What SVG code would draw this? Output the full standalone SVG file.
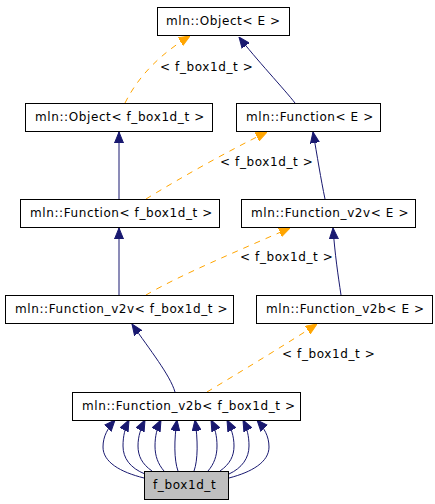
<svg xmlns="http://www.w3.org/2000/svg" width="435" height="504" viewBox="0 0 435 504">
<style>
.box{fill:#ffffff;stroke:#000000;stroke-width:1}
.grey{fill:#bfbfbf}
text{font-family:"DejaVu Sans","Liberation Sans",sans-serif;font-size:12px;letter-spacing:0.6px;fill:#000000}
.inh{fill:none;stroke:#191970;stroke-width:1}
.tpl{fill:none;stroke:#ffa500;stroke-width:1;stroke-dasharray:6,6}
</style>
<defs>
<marker id="an" markerUnits="userSpaceOnUse" markerWidth="11" markerHeight="10" viewBox="0 0 11 10" refX="11" refY="5" orient="auto"><path d="M0,0.5 L11,5 L0,9.5 Z" fill="#191970" stroke="#191970"/></marker>
<marker id="ao" markerUnits="userSpaceOnUse" markerWidth="11" markerHeight="10" viewBox="0 0 11 10" refX="11" refY="5" orient="auto"><path d="M0,0.5 L11,5 L0,9.5 Z" fill="#ffa500" stroke="#ffa500"/></marker>
</defs>
<rect width="435" height="504" fill="#ffffff"/>
<g id="connectors">
<path class="inh" marker-end="url(#an)" d="M295,103 C285,90 255,58 239,37"/>
<path class="inh" marker-end="url(#an)" d="M119,199 L119,132"/>
<path class="inh" marker-end="url(#an)" d="M325,199 C321,180 317,155 313,132"/>
<path class="inh" marker-end="url(#an)" d="M119,295 L119,228"/>
<path class="inh" marker-end="url(#an)" d="M341,295 C338,275 335,255 333,228"/>
<path class="inh" marker-end="url(#an)" d="M175,392 C170,375 150,350 132,324"/>
<path class="tpl" marker-end="url(#ao)" d="M125,103 C133,87 150,60 190,36"/>
<path class="tpl" marker-end="url(#ao)" d="M146,199 C180,178 230,150 267,132"/>
<path class="tpl" marker-end="url(#ao)" d="M146,295 C180,275 240,250 290,228"/>
<path class="tpl" marker-end="url(#ao)" d="M207,392 C240,372 285,345 317,324"/>
<path class="inh" marker-end="url(#an)" d="M144,478 C120,472 103,462 103,447 C103,436 108,428 115,420"/>
<path class="inh" marker-end="url(#an)" d="M145,474 C130,468 123,458 123,446 C123,436 125,428 129,420"/>
<path class="inh" marker-end="url(#an)" d="M152,471 C142,464 138,456 138,446 C138,436 141,428 145,420"/>
<path class="inh" marker-end="url(#an)" d="M164,471 C158,464 155,456 155,446 C155,436 157,428 161,420"/>
<path class="inh" marker-end="url(#an)" d="M178,471 C174,460 174,440 177,420"/>
<path class="inh" marker-end="url(#an)" d="M194,471 C198,460 198,440 195,420"/>
<path class="inh" marker-end="url(#an)" d="M208,471 C214,464 217,456 217,446 C217,436 215,428 211,420"/>
<path class="inh" marker-end="url(#an)" d="M220,471 C230,464 234,456 234,446 C234,436 231,428 227,420"/>
<path class="inh" marker-end="url(#an)" d="M229,474 C242,468 249,458 249,446 C249,436 247,428 243,420"/>
<path class="inh" marker-end="url(#an)" d="M229,478 C252,472 269,462 269,447 C269,436 264,428 257,420"/>
<text x="160" y="71">&lt; f_box1d_t &gt;</text>
<text x="220" y="166">&lt; f_box1d_t &gt;</text>
<text x="240" y="261">&lt; f_box1d_t &gt;</text>
<text x="282" y="358">&lt; f_box1d_t &gt;</text>
</g>
<g id="n1"><rect class="box" x="157.5" y="7.5" width="132" height="28"/><text x="166" y="25">mln::Object&lt; E &gt;</text></g>
<g id="n2"><rect class="box" x="25.5" y="103.5" width="187" height="28"/><text x="35" y="121">mln::Object&lt; f_box1d_t &gt;</text></g>
<g id="n3"><rect class="box" x="236.5" y="103.5" width="144" height="28"/><text x="246" y="121">mln::Function&lt; E &gt;</text></g>
<g id="n4"><rect class="box" x="20.5" y="199.5" width="199" height="28"/><text x="30" y="217">mln::Function&lt; f_box1d_t &gt;</text></g>
<g id="n5"><rect class="box" x="241.5" y="199.5" width="174" height="28"/><text x="251" y="217">mln::Function_v2v&lt; E &gt;</text></g>
<g id="n6"><rect class="box" x="5.5" y="295.5" width="228" height="28"/><text x="15" y="313">mln::Function_v2v&lt; f_box1d_t &gt;</text></g>
<g id="n7"><rect class="box" x="256.5" y="295.5" width="176" height="28"/><text x="266" y="313">mln::Function_v2b&lt; E &gt;</text></g>
<g id="n8"><rect class="box" x="72.5" y="392.5" width="228" height="28"/><text x="82" y="410">mln::Function_v2b&lt; f_box1d_t &gt;</text></g>
<g id="n9"><rect class="box grey" x="144.5" y="471.5" width="84" height="28"/><text x="153" y="489">f_box1d_t</text></g>
</svg>
